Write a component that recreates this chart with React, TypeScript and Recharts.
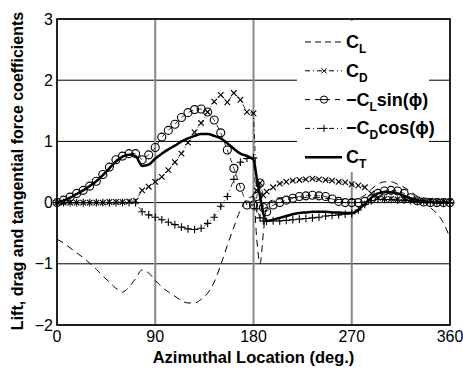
import { LineChart, Line, XAxis, YAxis, CartesianGrid, ReferenceArea } from "recharts";

// azimuth (deg) sampled where the markers sit
const ANGLE = [
  0, 6, 12, 18, 24, 30, 36, 42, 48, 54,
  60, 66, 72, 78, 84, 90, 96, 102, 108, 114,
  120, 126, 132, 138, 144, 150, 156, 162, 168, 174,
  180, 183, 186, 189, 192, 198, 204, 210, 216, 222,
  228, 234, 240, 246, 252, 258, 264, 270, 276, 282,
  288, 294, 300, 306, 312, 318, 324, 330, 336, 342,
  348, 354, 360,
];

const C_L = [
  -0.6, -0.66, -0.74, -0.82, -0.9, -0.99, -1.09, -1.2, -1.3, -1.4,
  -1.46, -1.38, -1.24, -1.1, -1.15, -1.27, -1.38, -1.46, -1.53, -1.6,
  -1.64, -1.64, -1.58, -1.48, -1.3, -1.02, -0.7, -0.4, -0.12, 0.05,
  0.1, -0.6, -1.0, -0.5, -0.05, 0.05, 0.08, 0.08, 0.08, 0.08,
  0.08, 0.08, 0.08, 0.07, 0.06, 0.05, 0.05, 0.05, 0.07, 0.12,
  0.22, 0.3, 0.34, 0.34, 0.3, 0.25, 0.18, 0.1, 0.02, -0.08,
  -0.18, -0.33, -0.58,
];

const C_D = [
  0, 0, 0, 0, 0, 0, 0, 0, 0.01, 0.01,
  0.01, 0.02, 0.03, 0.2, 0.26, 0.34, 0.42, 0.53, 0.66, 0.8,
  0.98, 1.15, 1.3, 1.48, 1.65, 1.76, 1.64, 1.79, 1.68, 1.48,
  1.46, 0.2, 0.32, 0.12, 0.18, 0.25, 0.31, 0.34, 0.36, 0.37,
  0.38, 0.39, 0.38, 0.37, 0.36, 0.34, 0.33, 0.3, 0.28, 0.25,
  0.15, 0.08, 0.06, 0.06, 0.05, 0.05, 0.04, 0.04, 0.03, 0.03,
  0.02, 0.02, 0.02,
];

const NEG_CL_SIN = [
  0, 0.04, 0.09, 0.15, 0.2, 0.27, 0.35, 0.46, 0.58, 0.7,
  0.76, 0.8, 0.8, 0.7, 0.78, 0.9, 1.07, 1.18, 1.28, 1.39,
  1.47, 1.52, 1.53, 1.48, 1.35, 1.14, 0.86, 0.56, 0.25, -0.04,
  -0.04, 0.1, 0.32, -0.08, -0.15, -0.04, 0, 0.04, 0.07, 0.1,
  0.11, 0.12, 0.11, 0.1, 0.06, 0.02, 0, 0, 0, 0.02,
  0.06, 0.15, 0.19, 0.2, 0.19, 0.15, 0.08, 0.03, 0.01, 0,
  0, 0, 0,
];

const NEG_CD_COS = [
  0, 0, 0, 0, 0, 0, 0, 0, 0, 0,
  0, 0, 0, -0.15, -0.2, -0.24, -0.28, -0.32, -0.36, -0.4,
  -0.43, -0.44, -0.42, -0.34, -0.24, -0.06, 0.1, 0.38, 0.66, 0.72,
  0.73, -0.1, -0.25, -0.3, -0.31, -0.3, -0.3, -0.29, -0.28, -0.27,
  -0.26, -0.25, -0.24, -0.22, -0.21, -0.2, -0.19, -0.18, -0.12, -0.03,
  0.03, 0.05, 0.05, 0.05, 0.04, 0.04, 0.03, 0.02, 0.02, 0.01,
  0.01, 0, 0,
];

const C_T = [
  0, 0.03, 0.08, 0.14, 0.2, 0.27, 0.35, 0.45, 0.56, 0.67,
  0.75, 0.78, 0.76, 0.6, 0.62, 0.72, 0.8, 0.87, 0.93, 1.0,
  1.05, 1.09, 1.12, 1.12, 1.09, 1.05, 0.97, 0.88, 0.8, 0.76,
  0.7, 0.4, 0.1, -0.18, -0.3, -0.28, -0.25, -0.22, -0.19, -0.17,
  -0.16, -0.15, -0.15, -0.15, -0.16, -0.16, -0.17, -0.17, -0.12, -0.02,
  0.08, 0.15, 0.17, 0.17, 0.15, 0.11, 0.07, 0.04, 0.02, 0.01,
  0, 0, 0,
];

const X_TICKS = [0, 90, 180, 270, 360];
const Y_TICKS = [-2, -1, 0, 1, 2, 3];

const FONT = '"Liberation Sans", Arial, Helvetica, sans-serif';
const DASH_DOT = "5 3 1 3";

const data = ANGLE.map((a, i) => ({
  angle: a,
  cl: C_L[i],
  cd: C_D[i],
  clSin: NEG_CL_SIN[i],
  cdCos: NEG_CD_COS[i],
  ct: C_T[i],
}));

function crossPath(cx: number, cy: number, s: number) {
  return `M${cx - s},${cy - s}L${cx + s},${cy + s}M${cx - s},${cy + s}L${cx + s},${cy - s}`;
}
function plusPath(cx: number, cy: number, s: number) {
  return `M${cx - s},${cy}L${cx + s},${cy}M${cx},${cy - s}L${cx},${cy + s}`;
}

const crossDot = (p: any) => {
  if (p.cx == null || p.cy == null) return <g key={`x${p.index}`} />;
  return <path key={`x${p.index}`} d={crossPath(p.cx, p.cy, 2.8)} stroke="#000" strokeWidth={1.1} fill="none" />;
};
const plusDot = (p: any) => {
  if (p.cx == null || p.cy == null) return <g key={`p${p.index}`} />;
  return <path key={`p${p.index}`} d={plusPath(p.cx, p.cy, 3.8)} stroke="#000" strokeWidth={1.1} fill="none" />;
};
const circleDot = (p: any) => {
  if (p.cx == null || p.cy == null) return <g key={`o${p.index}`} />;
  return <circle key={`o${p.index}`} cx={p.cx} cy={p.cy} r={4} stroke="#000" strokeWidth={1.1} fill="none" />;
};

// legend entries: prefix, main letter, subscript, suffix, line style
const LEGEND = [
  { pre: "", main: "C", sub: "L", post: "", dash: "6 4", marker: "", width: 1 },
  { pre: "", main: "C", sub: "D", post: "", dash: DASH_DOT, marker: "x", width: 1 },
  { pre: "\u2212", main: "C", sub: "L", post: "sin(\u03D5)", dash: "5 5", marker: "o", width: 1 },
  { pre: "\u2212", main: "C", sub: "D", post: "cos(\u03D5)", dash: DASH_DOT, marker: "+", width: 1 },
  { pre: "", main: "C", sub: "T", post: "", dash: "", marker: "", width: 2.5 },
];

function Overlay() {
  const bx = 297;
  const by = 21;
  const rowH = 28.8;
  return (
    <svg
      width={463}
      height={370}
      style={{ position: "absolute", left: 0, top: 0, pointerEvents: "none" }}
      fontFamily={FONT}
    >
      <rect x={bx} y={by} width={132} height={151} fill="#fff" />
      {LEGEND.map((e, i) => {
        const y = 42 + i * rowH;
        const mx = 324;
        return (
          <g key={i}>
            <line
              x1={305}
              x2={342}
              y1={y}
              y2={y}
              stroke="#000"
              strokeWidth={e.width}
              strokeDasharray={e.dash || undefined}
            />
            {e.marker === "x" && (
              <path d={crossPath(mx, y, 2.6)} stroke="#000" fill="none" />
            )}
            {e.marker === "+" && (
              <path d={plusPath(mx, y, 3.6)} stroke="#000" fill="none" />
            )}
            {e.marker === "o" && (
              <circle cx={mx} cy={y} r={3.6} stroke="#000" fill="#fff" />
            )}
            {e.marker === "o" && <line x1={mx - 3.6} x2={mx + 3.6} y1={y} y2={y} stroke="#000" />}
            <text x={346} y={y + 6} fontSize={18} fontWeight="bold" fill="#000">
              {e.pre}
              {e.main}
              <tspan fontSize={12} dy={5}>
                {e.sub}
              </tspan>
              {e.post && (
                <tspan fontSize={18} dy={-5}>
                  {e.post}
                </tspan>
              )}
            </text>
          </g>
        );
      })}
      <text
        x={17}
        y={171}
        transform="rotate(-90 17 171)"
        textAnchor="middle"
        dominantBaseline="central"
        fontSize={16}
        fontWeight="bold"
        fill="#000"
      >
        Lift, drag and tangential force coefficients
      </text>
      <text x={253.5} y={363} textAnchor="middle" fontSize={16.5} fontWeight="bold" fill="#000">
        Azimuthal Location (deg.)
      </text>
    </svg>
  );
}

export default function App() {
  return (
    <div style={{ position: "absolute", left: 0, top: 0, width: 463, height: 370, background: "#fff" }}>
      <LineChart width={463} height={370} data={data} margin={{ top: 19, right: 13, bottom: 0, left: 0 }}>
        <CartesianGrid vertical={false} stroke="#000" strokeWidth={1} />
        <CartesianGrid horizontal={false} stroke="#888" strokeWidth={2} />
        <XAxis
          dataKey="angle"
          type="number"
          domain={[0, 360]}
          ticks={X_TICKS}
          interval={0}
          height={45}
          tickLine={false}
          axisLine={false}
          tickSize={0}
          tickMargin={6}
          tick={{ fill: "#000", fontSize: 16, fontFamily: FONT }}
        />
        <YAxis
          type="number"
          domain={[-2, 3]}
          ticks={Y_TICKS}
          interval={0}
          width={57}
          tickLine={false}
          axisLine={false}
          tickSize={0}
          tickMargin={4}
          tick={{ fill: "#000", fontSize: 16, fontFamily: FONT }}
          tickFormatter={(v: number) => String(v).replace("-", "\u2212")}
        />
        <Line type="monotone" dataKey="cl" stroke="#000" strokeWidth={1} strokeDasharray="7 5" dot={false} isAnimationActive={false} />
        <Line type="linear" dataKey="cd" stroke="#000" strokeWidth={0.8} strokeDasharray={DASH_DOT} dot={crossDot} isAnimationActive={false} />
        <Line type="linear" dataKey="cdCos" stroke="#000" strokeWidth={0.8} strokeDasharray={DASH_DOT} dot={plusDot} isAnimationActive={false} />
        <Line type="linear" dataKey="clSin" stroke="#000" strokeWidth={0.8} strokeDasharray="5 4" dot={circleDot} isAnimationActive={false} />
        <Line type="monotone" dataKey="ct" stroke="#000" strokeWidth={2.5} dot={false} isAnimationActive={false} />
        <ReferenceArea x1={0} x2={360} y1={-2} y2={3} fill="none" stroke="#000" strokeWidth={1.5} />
      </LineChart>
      <Overlay />
    </div>
  );
}
